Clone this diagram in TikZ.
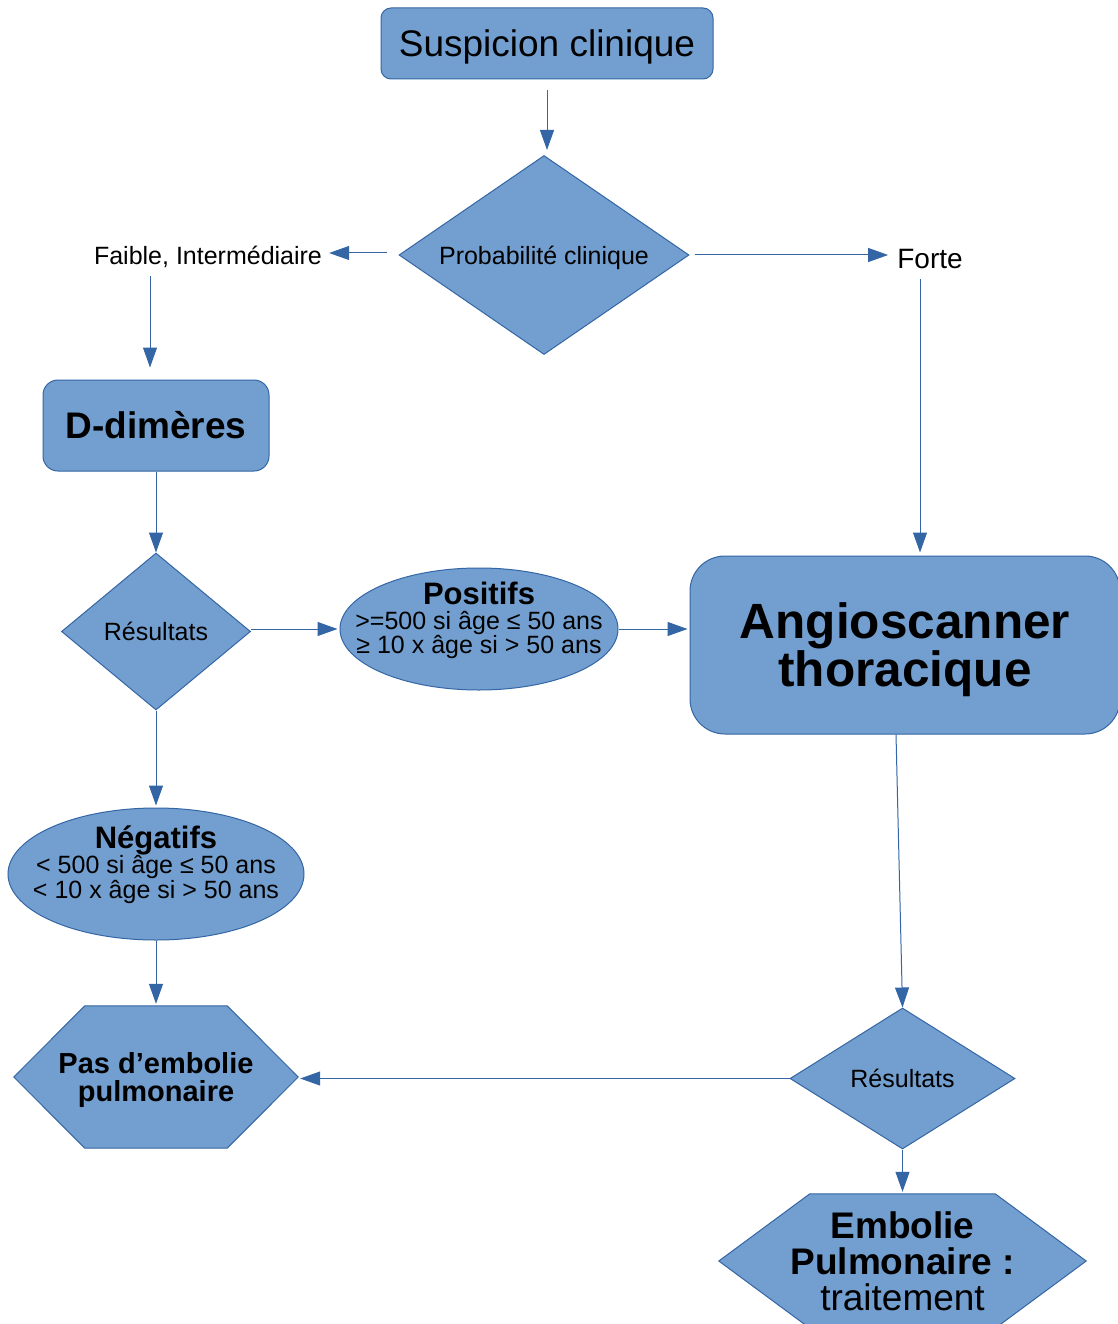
\documentclass[tikz,border=0pt]{standalone}
\usepackage{fontspec}
\setmainfont{Liberation Sans}
\usetikzlibrary{shapes.geometric,arrows.meta}
\definecolor{boxfill}{HTML}{729FCF}
\definecolor{boxline}{HTML}{3465A4}
\pgfdeclarelayer{bg}
\pgfsetlayers{bg,main}
\begin{document}
\begin{tikzpicture}[x=1pt,y=-1pt,
  box/.style={draw=boxline,fill=boxfill,line width=1pt,inner sep=0pt},
  plain/.style={inner sep=0pt,align=center},
  arr/.style={draw=boxline,line width=1pt,-{Triangle[length=20pt,width=14pt]}},
  small/.style={font=\fontsize{25}{24.5}\selectfont}
]
\useasboundingbox (0,0) rectangle (1118,1324);

% nodes
\node[box,rounded corners=10pt,minimum width=332pt,minimum height=71pt,text height=27pt,text depth=0pt,
  font=\fontsize{37}{40}\selectfont]
  (susp) at (547,43.5) {Suspicion clinique};
\node[box,diamond,aspect=1.46,minimum width=290pt,minimum height=199pt,text height=20pt,text depth=0pt,
  font=\fontsize{25}{28}\selectfont]
  (prob) at (544,255) {Probabilité clinique};
\node[plain,font=\fontsize{25}{28}\selectfont] (faible) at (208,257) {Faible, Intermédiaire};
\node[plain,font=\fontsize{28}{30}\selectfont] (forte) at (930,259) {Forte};
\node[box,rounded corners=15pt,minimum width=226pt,minimum height=91pt,font=\bfseries\fontsize{37}{40}\selectfont]
  (dd) at (156,425.5) {D-dimères};
\node[box,diamond,aspect=1.2,minimum width=189pt,minimum height=157pt,font=\fontsize{25}{28}\selectfont]
  (res1) at (156,631.5) {Résultats};
\node[box,ellipse,minimum width=278pt,minimum height=122pt] (pos) at (479,629) {};
\node[plain,small] (postxt) at (479,620.5)
  {{\bfseries\fontsize{31}{24.5}\selectfont Positifs}\\
   >=500 si âge ≤ 50 ans\\
   ≥ 10 x âge si > 50 ans};
\node[box,rounded corners=35pt,minimum width=430pt,minimum height=178pt] (angio) at (905,645) {};
\node[plain,font=\bfseries\fontsize{49.5}{48}\selectfont] (angiotxt) at (905,650) {Angioscanner\\thoracique};
\node[box,ellipse,minimum width=296pt,minimum height=132pt] (neg) at (156,874) {};
\node[plain,small] (negtxt) at (156,864.5)
  {{\bfseries\fontsize{31}{24.5}\selectfont Négatifs}\\
   < 500 si âge ≤ 50 ans\\
   < 10 x âge si > 50 ans};
\node[plain,minimum width=284pt,minimum height=142pt] (pas) at (156,1077) {};
\node[plain,font=\bfseries\fontsize{29}{28}\selectfont] (pastxt) at (156,1080) {Pas d’embolie\\pulmonaire};
\node[box,diamond,aspect=1.6,minimum width=225pt,minimum height=141pt,font=\fontsize{25}{28}\selectfont]
  (res2) at (902.5,1078.5) {Résultats};
\node[plain,minimum width=367pt,minimum height=134pt,font=\bfseries\fontsize{37}{36}\selectfont]
  (emb) at (902.5,1261) {Embolie\\Pulmonaire :\\\mdseries traitement};

% hexagons
\begin{pgfonlayer}{bg}
\draw[box] (pas.west) -- ([xshift=71pt]pas.north west) -- ([xshift=-71pt]pas.north east)
  -- (pas.east) -- ([xshift=-71pt]pas.south east) -- ([xshift=71pt]pas.south west) -- cycle;
\draw[box] (emb.west) -- ([xshift=91pt]emb.north west) -- ([xshift=-91pt]emb.north east)
  -- (emb.east) -- ([xshift=-91pt]emb.south east) -- ([xshift=91pt]emb.south west) -- cycle;
\end{pgfonlayer}

% connectors
\draw[arr,shorten <=11pt,shorten >=5pt] (susp.south) -- (susp.south |- prob.north);
\draw[arr,shorten <=12pt,shorten >=7pt] ([yshift=2pt]prob.west) -- ([yshift=2pt]prob.west -| faible.east);
\draw[arr,shorten <=5pt,shorten >=9pt] (prob.east) -- (prob.east -| forte.west);
\draw[arr,shorten <=8pt,shorten >=12pt] ([xshift=-58pt]faible.south) -- ([xshift=-58pt]faible.south |- dd.north);
\draw[arr] (dd.south) -- (res1.north);
\draw[arr,shorten >=2pt] (pos.west -| res1.east) -- (pos.west);
\draw[arr,shorten >=2pt] (pos.east) -- (pos.east -| angio.west);
\draw[arr,shorten <=10pt,shorten >=3pt] ([xshift=-10pt]forte.south) -- ([xshift=-10pt]forte.south |- angio.north);
\draw[arr,shorten >=2pt] (res1.south) -- (neg.north);
\draw[arr,shorten >=2pt] (neg.south) -- (pas.north);
\draw[arr] ([xshift=-9pt]angio.south) -- (res2.north);
\draw[arr,shorten >=2pt] (res2.west) -- (res2.west -| pas.east);
\draw[arr,shorten >=2pt] (res2.south) -- (emb.north);
\end{tikzpicture}
\end{document}
